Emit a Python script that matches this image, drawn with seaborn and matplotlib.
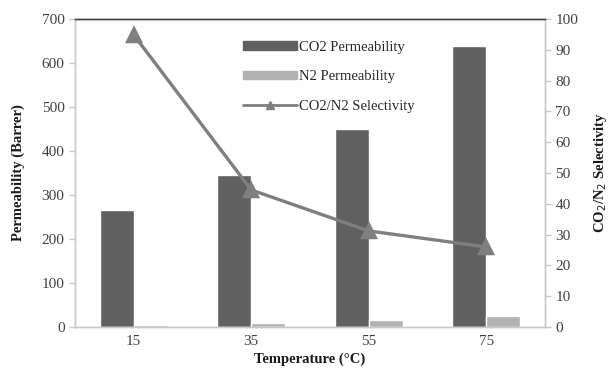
import matplotlib
matplotlib.use("Agg")
import matplotlib.pyplot as plt
import seaborn as sns
import pandas as pd
from matplotlib.patches import Patch
from matplotlib.lines import Line2D

temps = ["15", "35", "55", "75"]
co2_perm = [265, 345, 450, 638]
n2_perm = [4, 9, 17, 26]
selectivity = [94.8, 44.5, 31.2, 26.0]

sns.set_theme(style="white")
plt.rcParams['font.family'] = ['Liberation Serif', 'DejaVu Serif']

df = pd.DataFrame({
    "Temperature": temps * 2,
    "Permeability": co2_perm + n2_perm,
    "Gas": ["CO2 Permeability"] * 4 + ["N2 Permeability"] * 4,
})

c_co2 = "#606060"
c_n2 = "#b2b2b2"
c_line = "#7f7f7f"
tick_c = "#404040"

fig = plt.figure(figsize=(6.12, 3.70), dpi=100)
ax = fig.add_axes([0.1225, 0.116, 0.768, 0.833])
sns.barplot(data=df, x="Temperature", y="Permeability", hue="Gas",
            palette=[c_co2, c_n2], width=0.58, ax=ax, legend=False,
            saturation=1)
ax.set_ylim(0, 700)
ax.set_yticks(range(0, 701, 100))
ax.set_xlim(-0.5, 3.5)

ax2 = ax.twinx()
sns.pointplot(x=temps, y=selectivity, ax=ax2, color=c_line, marker="^",
              markersize=10, linewidth=2.4)
ax2.set_ylim(0, 100)
ax2.set_yticks(range(0, 101, 10))
ax2.set_xlim(-0.5, 3.5)

for a in (ax, ax2):
    for s in a.spines.values():
        s.set_color("#c8c8c8")
        s.set_linewidth(1.0)
    a.spines["top"].set_color("#404040")
    a.tick_params(axis="both", colors="#c8c8c8", labelcolor=tick_c,
                  labelsize=11, length=4, width=1, direction="out")
ax.set_xticks([-0.5, 0.5, 1.5, 2.5, 3.5], minor=True)
ax.tick_params(axis="x", which="major", length=0, pad=6)
ax.tick_params(axis="x", which="minor", length=4, color="#c8c8c8")

ax.set_xlabel("Temperature (°C)", fontsize=10.5, fontweight="bold", color="#1a1a1a", labelpad=3)
ax.set_ylabel("Permeability (Barrer)", fontsize=10.5, fontweight="bold", color="#1a1a1a", labelpad=12)
ax2.set_ylabel(r"CO$_2$/N$_2$ Selectivity", fontsize=10.5, fontweight="bold", color="#1a1a1a", labelpad=10)
ax2.set_xlabel("")

handles = [
    Patch(facecolor=c_co2, edgecolor=c_co2),
    Patch(facecolor=c_n2, edgecolor=c_n2),
    Line2D([0], [0], color=c_line, lw=2, marker="^", markersize=6),
]
labels = ["CO2 Permeability", "N2 Permeability", "CO2/N2 Selectivity"]
ax2.legend(handles, labels, loc="upper left", bbox_to_anchor=(0.33, 0.972),
           frameon=False, fontsize=10.5, handlelength=3.7, handleheight=0.5,
           labelspacing=1.15, handletextpad=0.1)

fig.savefig("out.png", dpi=100)
